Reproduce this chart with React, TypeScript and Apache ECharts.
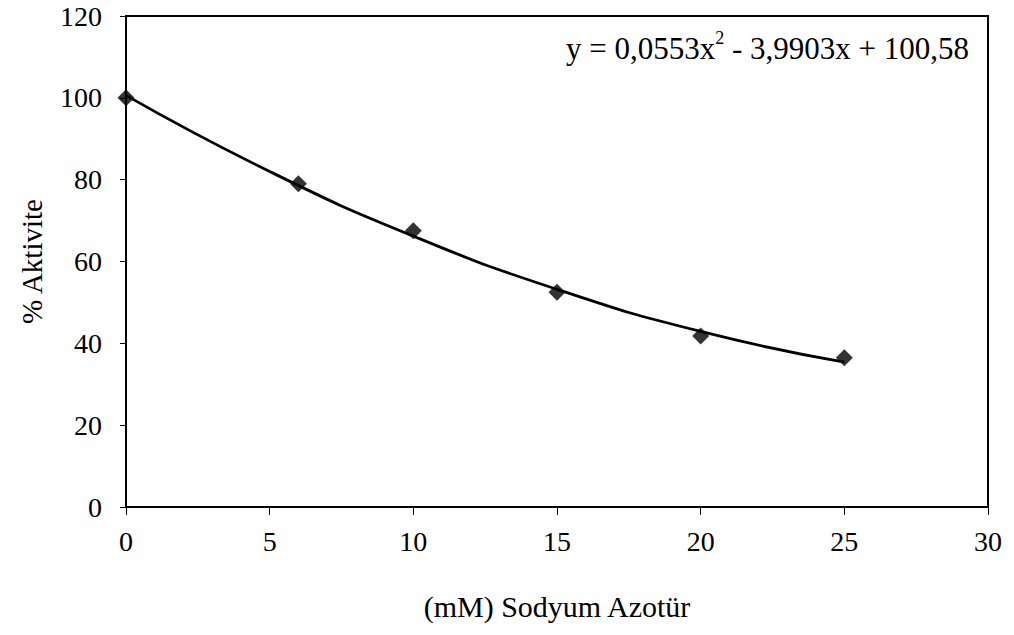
import React, { useEffect, useRef } from "react";
import * as echarts from "echarts";

const concentrations = [0, 6, 10, 15, 20, 25];
const activity = [100, 79, 67.5, 52.5, 41.8, 36.5];
// trendline
const trendX = [0, 5, 10, 15, 20, 25];
const trendY = [100.6, 82.0, 66.2, 53.2, 42.9, 35.4];
const yTicks = [0, 20, 40, 60, 80, 100, 120];
const xTicks = [0, 5, 10, 15, 20, 25, 30];

const FONT = "'Liberation Serif', 'Times New Roman', serif";

export default function App() {
  const ref = useRef<HTMLDivElement>(null);
  useEffect(() => {
    if (!ref.current) return;
    const chart = echarts.init(ref.current, null, { renderer: "svg" });
    chart.setOption({
      animation: false,
      backgroundColor: "#ffffff",
      grid: {
        left: 126,
        top: 16,
        right: 26,
        bottom: 128,
        show: true,
        borderColor: "#000",
        borderWidth: 2,
        backgroundColor: "transparent",
      },
      xAxis: {
        type: "value",
        min: xTicks[0],
        max: xTicks[xTicks.length - 1],
        interval: 5,
        name: "(mM) Sodyum Azotür",
        nameLocation: "middle",
        nameGap: 84,
        nameTextStyle: { fontFamily: FONT, fontSize: 30, color: "#000" },
        axisLine: { show: true, onZero: false, lineStyle: { color: "#000", width: 2 } },
        axisTick: { show: true, length: 8, lineStyle: { color: "#000", width: 1 } },
        axisLabel: { fontFamily: FONT, fontSize: 28, color: "#000", margin: 20 },
        splitLine: { show: false },
      },
      yAxis: {
        type: "value",
        min: yTicks[0],
        max: yTicks[yTicks.length - 1],
        interval: 20,
        name: "% Aktivite",
        nameLocation: "middle",
        nameGap: 80,
        nameRotate: 90,
        nameTextStyle: { fontFamily: FONT, fontSize: 29, color: "#000" },
        axisLine: { show: true, lineStyle: { color: "#000", width: 2 } },
        axisTick: { show: true, length: 6, lineStyle: { color: "#000", width: 1 } },
        axisLabel: { fontFamily: FONT, fontSize: 28, color: "#000", margin: 24 },
        splitLine: { show: false },
      },
      graphic: [
        {
          type: "text",
          right: 45,
          top: 29,
          style: {
            text: "{a|y = 0,0553x}{s|2}{a| - 3,9903x + 100,58}",
            rich: {
              a: { fontFamily: FONT, fontSize: 31, fill: "#000", lineHeight: 38 },
              s: { fontFamily: FONT, fontSize: 18, fill: "#000", verticalAlign: "top", lineHeight: 38, padding: [0, 0, 16, 0] },
            },
          },
        },
      ],
      series: [
        {
          type: "line",
          data: trendX.map((x, i) => [x, trendY[i]]),
          smooth: true,
          symbol: "none",
          lineStyle: { color: "#000", width: 2.8 },
          z: 2,
        },
        {
          type: "scatter",
          data: concentrations.map((x, i) => [x, activity[i]]),
          symbol: "diamond",
          symbolSize: [17, 17],
          itemStyle: { color: "#000" },
          z: 3,
        },
      ],
    });
    return () => chart.dispose();
  }, []);
  return <div ref={ref} style={{ width: 1014, height: 635, margin: -8 }} />;
}
